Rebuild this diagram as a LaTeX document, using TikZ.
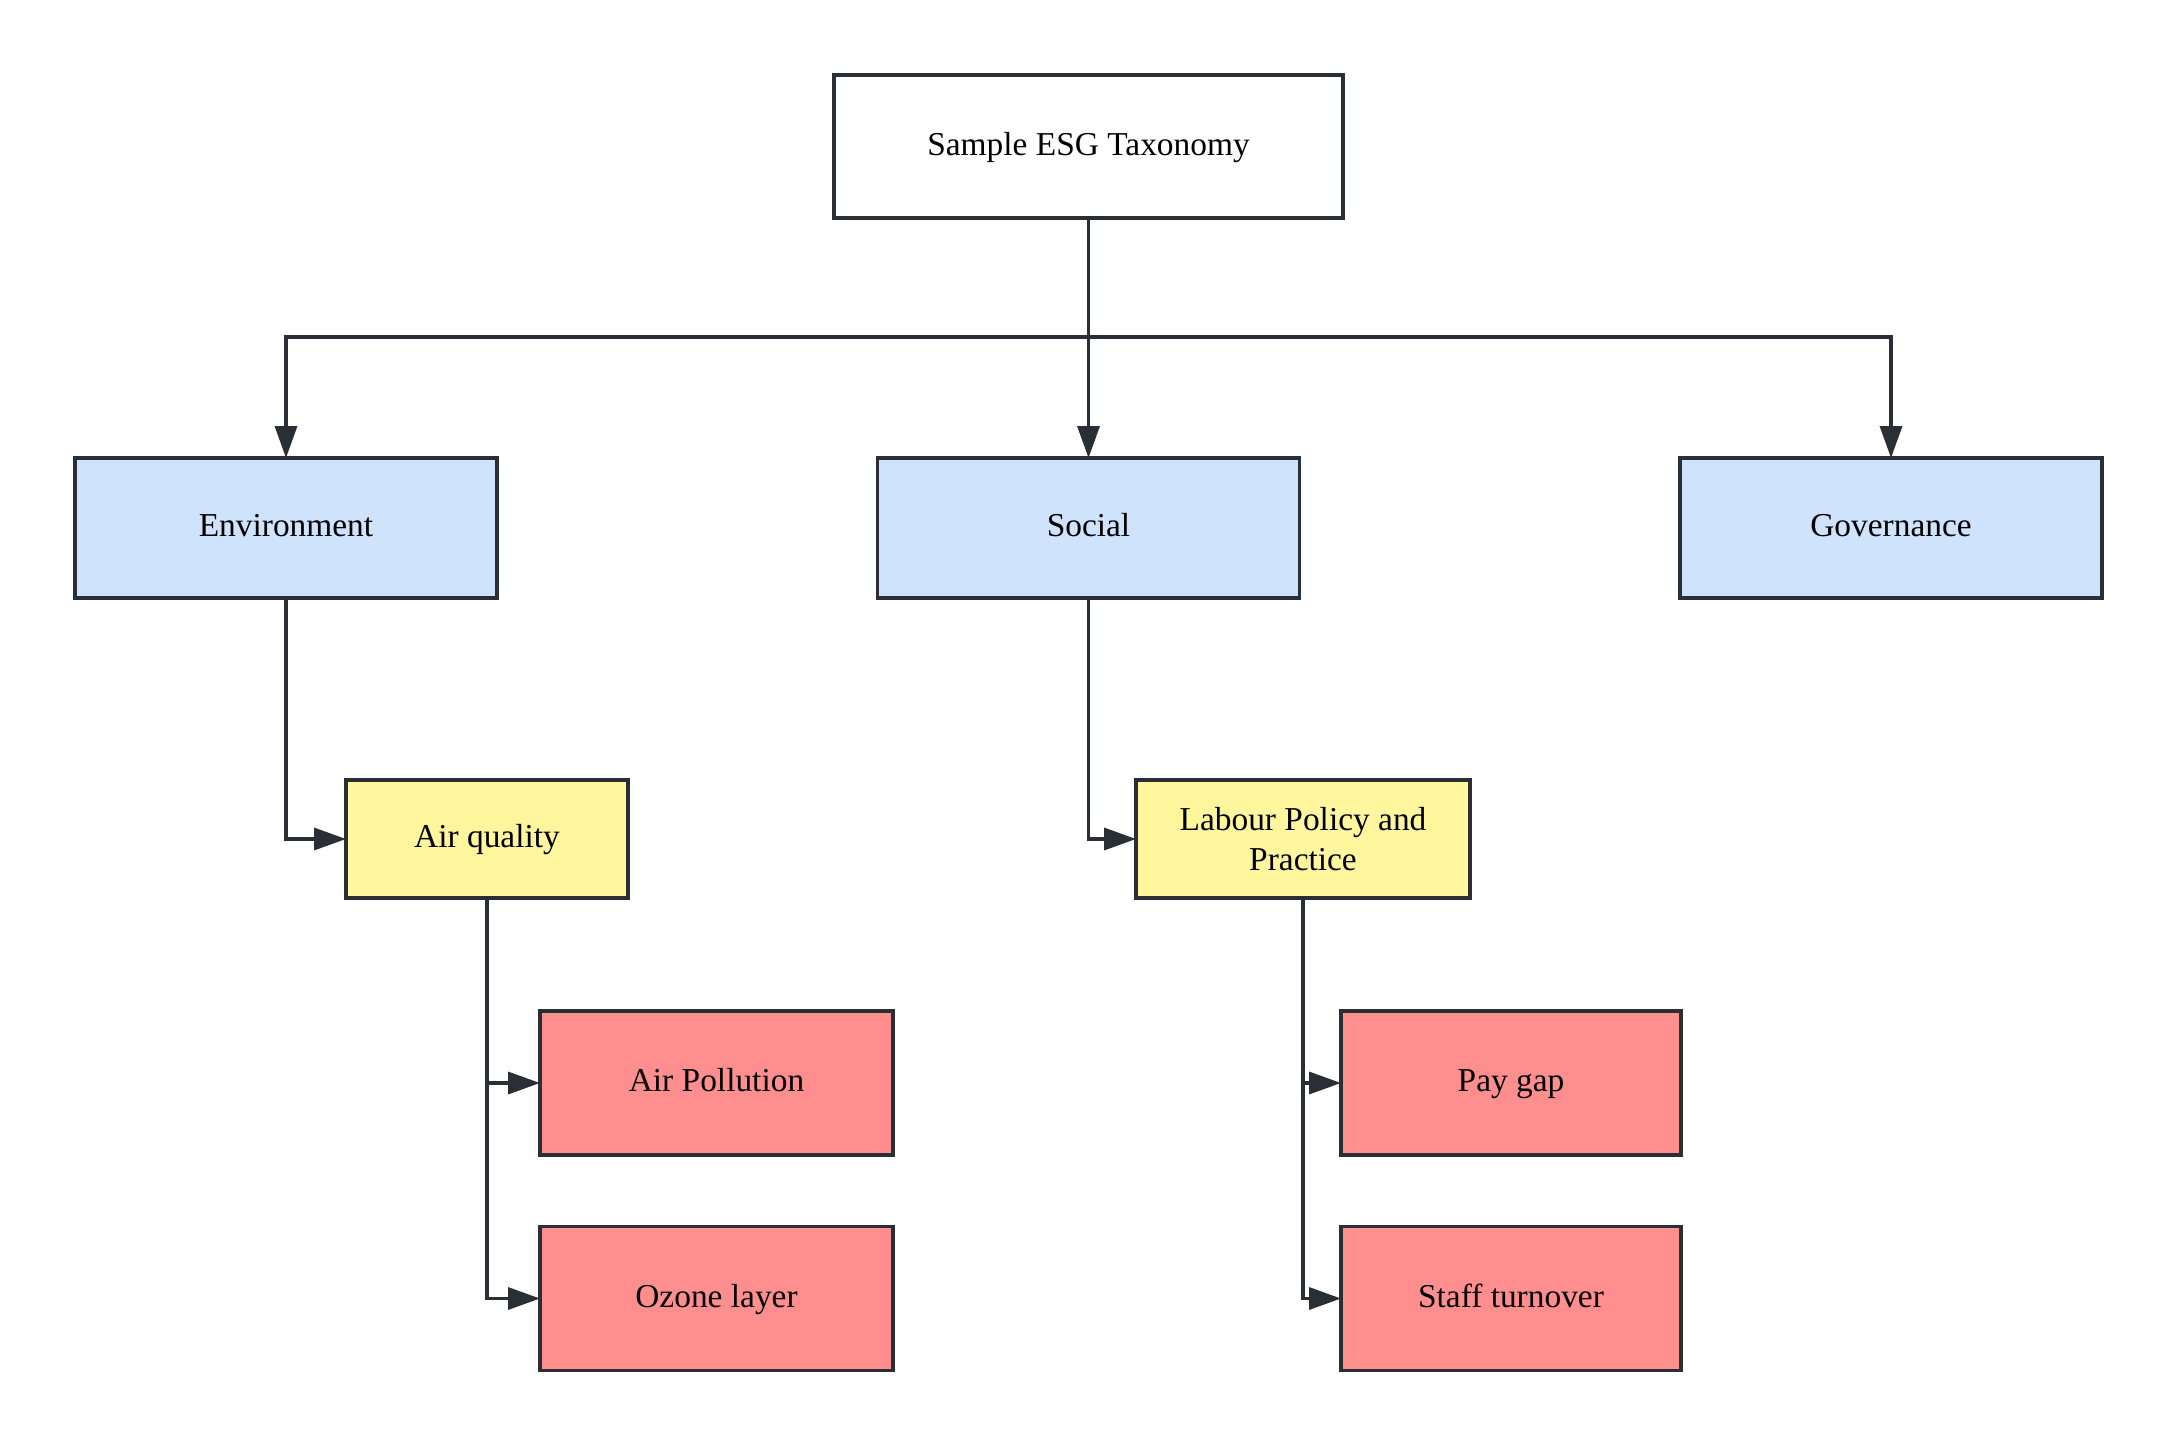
\documentclass[tikz,border=0pt]{standalone}
\usepackage{fontspec}
\setmainfont{Liberation Serif}
\usetikzlibrary{arrows.meta}
\definecolor{edgec}{HTML}{2A2E35}
\definecolor{bluef}{HTML}{CFE3FD}
\definecolor{yellowf}{HTML}{FFF69E}
\definecolor{redf}{HTML}{FF8E8E}
\begin{document}
\begin{tikzpicture}[x=0.5pt,y=-0.5pt,
  box/.style={draw=edgec,line width=1.8pt,inner sep=0pt,outer sep=0pt,align=center,
    font=\fontsize{16.7pt}{20pt}\selectfont,text=black},
  oneline/.style={text height=12.3pt,text depth=3.5pt},
  topbox/.style={box,oneline,fill=white,minimum width=254.5pt,minimum height=71.5pt},
  catbox/.style={box,oneline,fill=bluef,minimum width=211pt,minimum height=70pt},
  subbox/.style={box,fill=yellowf,minimum height=59pt},
  leafbox/.style={box,oneline,fill=redf,minimum height=72pt},
  conn/.style={draw=edgec,line width=1.7pt,-{Triangle[length=16pt,width=11pt]}}]
\useasboundingbox (0,0) rectangle (2177,1444);
\node[topbox] (top) at (1088.5,146.5) {Sample ESG Taxonomy};
\node[catbox] (env) at (286,528) {Environment};
\node[catbox] (soc) at (1088.5,528) {Social};
\node[catbox] (gov) at (1891,528) {Governance};
\node[subbox,oneline,minimum width=141pt] (airq) at (487,839) {Air quality};
\node[subbox,minimum width=167pt] (lab) at (1303,839) {Labour Policy and\\Practice};
\node[leafbox,minimum width=176.5pt] (airp) at (716.5,1083) {Air Pollution};
\node[leafbox,minimum width=176.5pt] (ozone) at (716.5,1298.5) {Ozone layer};
\node[leafbox,minimum width=170pt] (pay) at (1511,1083) {Pay gap};
\node[leafbox,minimum width=170pt] (staff) at (1511,1298.5) {Staff turnover};
\coordinate (bus) at (1088.5,337);
\draw[conn] (top.south) -- (top.south |- bus) -| (env.north);
\draw[conn] (top.south) -- (soc.north);
\draw[conn] (top.south) -- (top.south |- bus) -| (gov.north);
\draw[conn] (env.south) |- (airq.west);
\draw[conn] (soc.south) |- (lab.west);
\draw[conn] (airq.south) |- (airp.west);
\draw[conn] (airq.south) |- (ozone.west);
\draw[conn] (lab.south) |- (pay.west);
\draw[conn] (lab.south) |- (staff.west);
\end{tikzpicture}
\end{document}
